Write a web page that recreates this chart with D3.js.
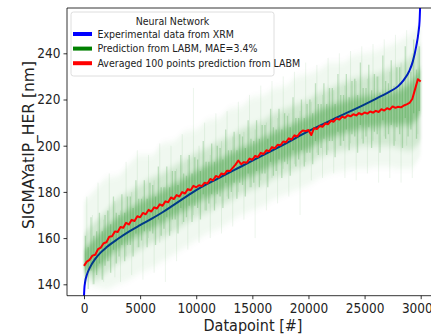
<!DOCTYPE html>
<html>
<head>
<meta charset="utf-8">
<script src="https://cdn.jsdelivr.net/npm/d3@7"></script>
<style>
  body { margin: 0; background: #fff; }
  svg text { font-family: "DejaVu Sans Condensed", "DejaVu Sans", sans-serif; fill: #222; }
</style>
</head>
<body>
<figure id="chart" style="margin:0"></figure>
<script>
const expX = [0, 30, 100, 250, 500, 1000, 1500, 2000, 3000, 4000, 5000, 6000, 7000, 8000, 9000,
  10000, 12000, 14000, 16000, 18000, 20000, 22000, 24000, 26000, 27000, 28000, 28500, 29000,
  29300, 29600, 29800, 29900, 30000];
const expY = [135, 138, 141, 144, 147, 151, 153.8, 156, 159.6, 162.8, 165.6, 168.3, 171.2, 174.4, 177.6,
  180.8, 186, 191, 196, 201, 206.3, 211, 215.5, 220.3, 222.8, 225.8, 228.5, 232.5,
  236.5, 243, 249, 254, 268];

// averaged 100 points prediction, one value every 250 datapoints
const avgStep = 250;
const avgY = [148.0, 149.8, 150.6, 152.4, 152.8, 155.2, 155.9, 157.8, 158.2, 160.6,
  160.8, 162.9, 162.6, 164.8, 164.5, 166.6, 165.9, 167.9, 167.4, 169.5,
  169.0, 170.9, 170.3, 172.2, 171.5, 173.3, 172.8, 174.6, 174.0, 175.9,
  175.5, 177.6, 176.9, 178.6, 178.0, 179.9, 179.3, 181.2, 180.7, 182.6,
  182.0, 182.9, 182.5, 184.0, 183.6, 185.6, 185.0, 186.9, 186.3, 188.0,
  187.6, 189.2, 189.0, 190.4, 191.8, 193.6, 192.0, 192.9, 192.6, 194.4,
  193.9, 195.6, 195.1, 196.9, 196.4, 198.0, 197.6, 199.4, 198.9, 200.4,
  200.2, 201.8, 201.5, 203.2, 202.7, 204.5, 204.0, 205.6, 206.6, 206.3,
  206.8, 204.6, 207.6, 207.2, 208.5, 208.2, 209.6, 209.3, 210.8, 210.4,
  211.8, 211.3, 212.6, 212.1, 213.2, 212.7, 213.6, 213.1, 214.1, 213.5,
  214.4, 213.9, 214.8, 214.3, 215.1, 214.6, 215.8, 215.2, 216.2, 215.7,
  217.0, 216.4, 216.9, 216.6, 217.4, 217.9, 218.5, 220.2, 224.5, 228.8,
  227.8];

// LABM prediction spread, sampled every 1000 datapoints
const bandX = d3.range(0, 30001, 1000);
const outerHi = [176, 181, 186, 187, 192, 196, 196, 201, 202, 206, 207, 211, 212, 216, 217, 221,
  222, 225, 226, 230, 231, 233, 236, 236, 239, 240, 241, 243, 245, 248, 252];
const outerLo = [141, 139, 138, 140, 142, 145, 147, 150, 153, 156, 159, 162, 164, 167, 170, 172,
  174, 177, 179, 181, 183, 186, 188, 189, 190, 190, 191, 191, 190, 190, 196];
const midHi = [162, 167, 172, 177, 180, 183, 186, 188, 191, 194, 197, 199, 202, 204, 207, 209,
  211, 214, 216, 218, 220, 223, 225, 227, 229, 230, 231, 233, 235, 238, 244];
const midLo = [144, 142, 145, 149, 152, 155, 158, 160, 163, 166, 169, 171, 174, 176, 179, 181,
  183, 186, 188, 190, 192, 195, 197, 198, 199, 200, 200, 200, 199, 198, 202];
const coreHi = [155, 160, 165, 169, 172.5, 175.5, 178, 180.5, 183.5, 186, 189, 191.5, 194, 196.5,
  199, 201, 203.5, 206, 208, 210.5, 212.5, 215.5, 217.5, 219, 220.5, 221.5, 222, 223, 224, 227, 234];
const coreLo = [146, 146, 151, 155, 158.5, 161.5, 164, 166.5, 169.5, 172, 175, 177.5, 180, 182.5,
  185, 187, 189.5, 192, 194, 196.5, 198.5, 201.5, 203.5, 205, 206.5, 207.5, 208, 209, 209, 209, 214];

// long single prediction streaks (outliers), every 500 datapoints from 250
const outlierX = d3.range(250, 30000, 500);
const outlierLo = [143, 140, 148, 141, 150, 143, 141, 152, 144, 156, 142, 160, 145, 158, 141, 163,
  150, 166, 155, 170, 158, 172, 160, 175, 162, 178, 165, 180, 168, 182, 160, 185, 172, 186, 175,
  190, 178, 192, 170, 193, 185, 197, 186, 198, 188, 200, 186, 201, 185, 203, 188, 202, 184, 204,
  186, 202, 184, 200, 186, 205];
const outlierHi = [178, 170, 184, 168, 188, 176, 172, 193, 180, 198, 178, 196, 185, 201, 182, 200,
  190, 205, 194, 225, 200, 210, 196, 214, 202, 215, 204, 219, 206, 222, 207, 226, 210, 228, 212,
  230, 214, 232, 215, 236, 219, 235, 222, 238, 224, 240, 226, 241, 228, 243, 229, 244, 230, 246,
  232, 248, 236, 250, 240, 252];

// shorter prediction streaks, every 250 datapoints from 125
const streakX = d3.range(125, 30000, 250);
const streakLo = [140, 138, 146, 140, 144, 149, 142, 148, 150, 145, 155, 149, 152, 157, 150, 157,
  157, 152, 162, 156, 159, 163, 156, 163, 162, 157, 168, 161, 164, 169, 161, 168,
  168, 162, 173, 167, 169, 174, 167, 174, 173, 168, 179, 172, 175, 179, 172, 179,
  178, 173, 184, 177, 180, 184, 177, 184, 183, 178, 188, 182, 184, 189, 182, 188,
  188, 182, 193, 187, 189, 194, 186, 193, 192, 187, 198, 191, 194, 198, 191, 197,
  197, 192, 202, 196, 199, 203, 196, 202, 202, 195, 206, 200, 202, 207, 198, 205,
  204, 197, 209, 201, 204, 208, 199, 206, 205, 197, 211, 203, 205, 209, 200, 208,
  205, 199, 212, 204, 207, 214, 203, 215];
const streakHi = [161, 156, 169, 161, 163, 171, 163, 170, 172, 166, 178, 171, 170, 179, 171, 178,
  178, 173, 185, 177, 177, 185, 177, 184, 183, 178, 191, 182, 182, 191, 182, 189,
  189, 183, 196, 188, 187, 196, 188, 195, 194, 189, 202, 193, 193, 201, 193, 200,
  199, 194, 207, 198, 198, 206, 198, 205, 204, 199, 211, 203, 202, 211, 203, 209,
  209, 203, 216, 208, 207, 216, 207, 214, 213, 208, 221, 212, 212, 220, 212, 218,
  220, 214, 227, 218, 218, 227, 218, 225, 225, 218, 231, 222, 222, 231, 221, 228,
  229, 222, 236, 225, 225, 235, 224, 231, 230, 223, 239, 228, 227, 237, 226, 234,
  234, 227, 243, 232, 232, 246, 233, 243];

const xTicks = [0, 5000, 10000, 15000, 20000, 25000, 30000];
const yTicks = [140, 160, 180, 200, 220, 240];

const legendItems = [
  { label: "Experimental data from XRM", color: "#0000ff" },
  { label: "Prediction from LABM, MAE=3.4%", color: "#008000" },
  { label: "Averaged 100 points prediction from LABM", color: "#ff0000" }
];

const width = 431, height = 334;
const plotLeft = 67, plotTop = 8, plotBottom = 295.7, plotRight = 438;

const svg = d3.select("figure#chart")
  .append("svg")
  .attr("width", width)
  .attr("height", height);

const x = d3.scaleLinear().domain([0, 30000]).range([84, 420.7]);
const y = d3.scaleLinear().domain([140, 240]).range([284.3, 53.3]);

const defs = svg.append("defs");
defs.append("clipPath").attr("id", "plot")
  .append("rect")
  .attr("x", plotLeft).attr("y", plotTop)
  .attr("width", plotRight - plotLeft).attr("height", plotBottom - plotTop);
// soften the edges of the spread layers vertically
defs.append("filter").attr("id", "soft")
  .attr("x", "-5%").attr("y", "-20%").attr("width", "110%").attr("height", "140%")
  .append("feGaussianBlur").attr("stdDeviation", "1 3");

const plot = svg.append("g").attr("clip-path", "url(#plot)");

// blue first, the green prediction sits over it
plot.append("path")
  .datum(expX.map((d, i) => [d, expY[i]]))
  .attr("fill", "none")
  .attr("stroke", "#0000ff")
  .attr("stroke-width", 2)
  .attr("d", d3.line().x(d => x(d[0])).y(d => y(d[1])).curve(d3.curveMonotoneX));

const bands = [
  { hi: outerHi, lo: outerLo, op: 0.06 },
  { hi: midHi, lo: midLo, op: 0.13 },
  { hi: coreHi, lo: coreLo, op: 0.28 }
];
const bandG = plot.append("g").attr("filter", "url(#soft)");
bands.forEach(b => {
  bandG.append("path")
    .datum(bandX.map((d, i) => [d, b.lo[i], b.hi[i]]))
    .attr("fill", "#008000")
    .attr("fill-opacity", b.op)
    .attr("d", d3.area().x(d => x(d[0])).y0(d => y(d[1])).y1(d => y(d[2])).curve(d3.curveMonotoneX));
});

function drawStreaks(xs, lo, hi, op, w) {
  plot.append("g")
    .selectAll("line")
    .data(xs.map((d, i) => [d, lo[i], hi[i]]))
    .enter()
    .append("line")
    .attr("x1", d => x(d[0])).attr("x2", d => x(d[0]))
    .attr("y1", d => y(d[1])).attr("y2", d => y(d[2]))
    .attr("stroke", "#008000")
    .attr("stroke-opacity", op)
    .attr("stroke-width", w);
}
drawStreaks(outlierX, outlierLo, outlierHi, 0.1, 0.8);
drawStreaks(streakX, streakLo, streakHi, 0.2, 1.3);

plot.append("path")
  .datum(avgY.map((d, i) => [i * avgStep, d]))
  .attr("fill", "none")
  .attr("stroke", "#ff0000")
  .attr("stroke-width", 2)
  .attr("stroke-linejoin", "round")
  .attr("d", d3.line().x(d => x(d[0])).y(d => y(d[1])));

// axes
const xAxis = svg.append("g")
  .attr("transform", "translate(0," + plotBottom + ")")
  .call(d3.axisBottom(x).tickValues(xTicks).tickFormat(d3.format("d"))
    .tickSizeOuter(0).tickSize(3.5).tickPadding(4));
xAxis.select(".domain").attr("d", "M" + plotLeft + ",0H" + plotRight);

const yAxis = svg.append("g")
  .attr("transform", "translate(" + plotLeft + ",0)")
  .call(d3.axisLeft(y).tickValues(yTicks).tickSizeOuter(0).tickSize(3.5).tickPadding(3));
yAxis.select(".domain").attr("d", "M0," + plotTop + "V" + plotBottom);

svg.append("line")
  .attr("x1", plotLeft).attr("x2", plotRight)
  .attr("y1", plotTop).attr("y2", plotTop)
  .attr("stroke", "#000").attr("stroke-width", 0.8);

svg.selectAll(".domain").attr("stroke", "#000").attr("stroke-width", 0.8);
svg.selectAll(".tick line").attr("stroke", "#000").attr("stroke-width", 0.8);
svg.selectAll(".tick text")
  .style("font-size", "13.5px")
  .attr("fill", "#222");

svg.append("text")
  .attr("x", 253).attr("y", 331)
  .attr("text-anchor", "middle")
  .style("font-size", "16px")
  .text("Datapoint [#]");

svg.append("text")
  .attr("transform", "translate(34,145) rotate(-90)")
  .attr("text-anchor", "middle")
  .style("font-family", "'DejaVu Sans', sans-serif")
  .style("font-size", "15.5px")
  .text("SIGMAYatIP_HER [nm]");

// legend
const lg = svg.append("g");
lg.append("rect")
  .attr("x", 71).attr("y", 12)
  .attr("width", 203).attr("height", 64)
  .attr("rx", 2.5)
  .attr("fill", "#fff").attr("fill-opacity", 0.8)
  .attr("stroke", "#d6d6d6").attr("stroke-width", 0.8);
lg.append("text")
  .attr("x", 172.5).attr("y", 24.5)
  .attr("text-anchor", "middle")
  .style("font-size", "10.5px")
  .text("Neural Network");
legendItems.forEach((d, i) => {
  const cy = 34 + i * 14.6;
  lg.append("line")
    .attr("x1", 73).attr("x2", 92)
    .attr("y1", cy).attr("y2", cy)
    .attr("stroke", d.color).attr("stroke-width", 4);
  lg.append("text")
    .attr("x", 97.5).attr("y", cy + 3.8)
    .style("font-size", "10.5px")
    .text(d.label);
});
</script>
</body>
</html>
